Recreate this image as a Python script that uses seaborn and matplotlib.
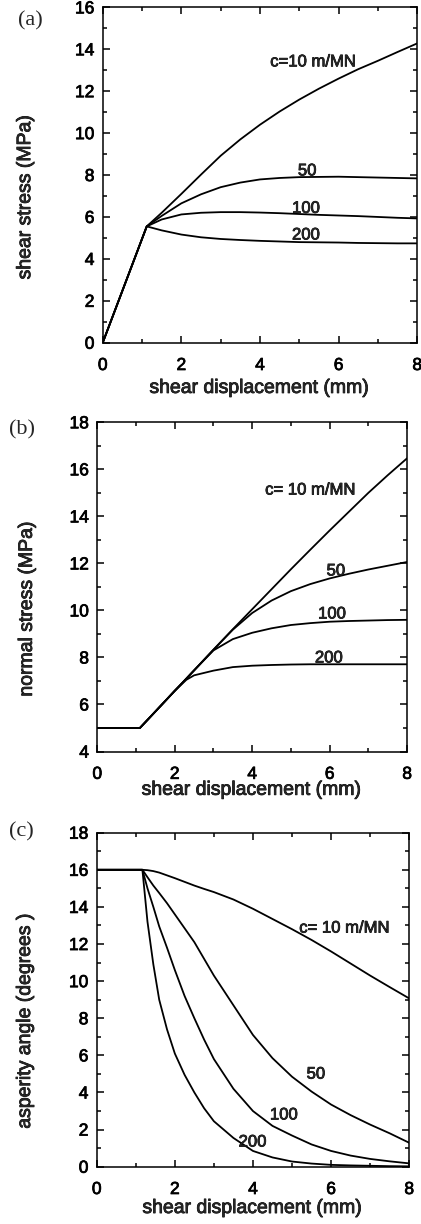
import pandas as pd
import seaborn as sns
import matplotlib.pyplot as plt
import matplotlib.patheffects as pe
from matplotlib.ticker import MultipleLocator

# (a) shear stress vs shear displacement
x_a = [0, 1.12, 1.5, 2, 2.5, 3, 3.5, 4, 4.5, 5, 5.5, 6, 6.5, 7, 7.5, 8]
tau_c10 = [0, 5.55, 6.2, 7.1, 8.02, 8.92, 9.7, 10.4, 11.03, 11.6, 12.12, 12.6, 13.05, 13.45, 13.87, 14.28]
tau_c50 = [0, 5.55, 6.05, 6.65, 7.08, 7.42, 7.64, 7.79, 7.86, 7.9, 7.91, 7.92, 7.9, 7.88, 7.86, 7.84]
tau_c100 = [0, 5.55, 5.88, 6.12, 6.2, 6.23, 6.23, 6.21, 6.18, 6.14, 6.1, 6.07, 6.04, 6.0, 5.96, 5.93]
tau_c200 = [0, 5.55, 5.36, 5.16, 5.03, 4.95, 4.9, 4.86, 4.83, 4.8, 4.79, 4.78, 4.76, 4.75, 4.74, 4.74]

# (b) normal stress vs shear displacement
x_b = [0, 1.1, 1.5, 2, 2.3, 2.5, 3, 3.5, 4, 4.5, 5, 5.5, 6, 6.5, 7, 7.5, 8]
sig_c10 = [5, 5, 5.7, 6.58, 7.1, 7.45, 8.33, 9.2, 10.05, 10.9, 11.75, 12.58, 13.4, 14.2, 15.0, 15.75, 16.47]
sig_c50 = [5, 5, 5.7, 6.58, 7.1, 7.45, 8.33, 9.18, 9.89, 10.42, 10.82, 11.12, 11.36, 11.56, 11.74, 11.9, 12.06]
sig_c100 = [5, 5, 5.7, 6.58, 7.1, 7.45, 8.3, 8.78, 9.05, 9.24, 9.38, 9.46, 9.52, 9.55, 9.57, 9.59, 9.6]
sig_c200 = [5, 5, 5.7, 6.58, 7.05, 7.24, 7.44, 7.59, 7.65, 7.68, 7.7, 7.71, 7.71, 7.71, 7.71, 7.71, 7.71]

# (c) asperity angle vs shear displacement
x_c = [0, 1.17, 1.3, 1.45, 1.6, 1.8, 2.0, 2.25, 2.5, 2.75, 3.0, 3.5, 4.0, 4.5, 5.0, 5.5, 6.0, 6.5, 7.0, 7.5, 8.0]
ang_c10 = [16, 16, 15.98, 15.93, 15.85, 15.7, 15.55, 15.35, 15.15, 14.97, 14.8, 14.4, 13.9, 13.35, 12.8,
           12.22, 11.6, 10.95, 10.3, 9.68, 9.07]
ang_c50 = [16, 16, 15.6, 15.15, 14.75, 14.2, 13.6, 12.85, 12.1, 11.2, 10.3, 8.7, 7.1, 5.85, 4.85,
           4.05, 3.35, 2.78, 2.27, 1.8, 1.29]
ang_c100 = [16, 16, 15.0, 14.0, 12.95, 11.8, 10.6, 9.2, 8.0, 6.85, 5.8, 4.2, 3.0, 2.2, 1.68,
            1.2, 0.85, 0.6, 0.42, 0.29, 0.18]
ang_c200 = [16, 16, 13.2, 10.9, 9.0, 7.4, 6.1, 4.95, 4.0, 3.15, 2.45, 1.55, 0.85, 0.5, 0.28,
            0.17, 0.1, 0.07, 0.05, 0.03, 0.02]

curve_labels_a = ["c=10 m/MN", "50", "100", "200"]
curve_labels_bc = ["c= 10 m/MN", "50", "100", "200"]

sns.set_style("ticks")
plt.rcParams['font.family'] = ['Liberation Sans', 'DejaVu Sans']
plt.rcParams['xtick.direction'] = 'in'
plt.rcParams['ytick.direction'] = 'in'

# scanned print looks heavier than a plain regular face
heavy = [pe.withStroke(linewidth=0.55, foreground='black')]

fig = plt.figure(figsize=(4.21, 12.24), dpi=100)

panels = [
    dict(rect=[0.244, 0.720, 0.747, 0.274], ylim=(0, 16), ylabel='shear stress (MPa)',
         series=[(x_a, tau_c10), (x_a, tau_c50), (x_a, tau_c100), (x_a, tau_c200)],
         labels=curve_labels_a, pos=[(5.35, 13.4), (5.2, 8.2), (5.17, 6.41), (5.17, 5.14)],
         ylab=(-0.218, 0.436), xlab=-0.111, tag='(a)', tagpos=(0.071, 0.983)),
    dict(rect=[0.231, 0.386, 0.736, 0.269], ylim=(4, 18), ylabel='normal stress (MPa)',
         series=[(x_b, sig_c10), (x_b, sig_c50), (x_b, sig_c100), (x_b, sig_c200)],
         labels=curve_labels_bc, pos=[(5.5, 15.12), (6.16, 11.68), (6.06, 9.85), (5.98, 7.98)],
         ylab=(-0.198, 0.435), xlab=-0.092, tag='(b)', tagpos=(0.053, 0.649)),
    dict(rect=[0.2297, 0.0468, 0.7423, 0.2729], ylim=(0, 18), ylabel='asperity angle (degrees )',
         series=[(x_c, ang_c10), (x_c, ang_c50), (x_c, ang_c100), (x_c, ang_c200)],
         labels=curve_labels_bc, pos=[(6.34, 12.86), (5.61, 4.99), (4.79, 2.79), (3.99, 1.33)],
         ylab=(-0.2006, 0.439), xlab=-0.0997, tag='(c)', tagpos=(0.051, 0.320)),
]

for p in panels:
    ax = fig.add_axes(p['rect'])
    for xs, ys in p['series']:
        df = pd.DataFrame({'x': xs, 'y': ys})
        sns.lineplot(data=df, x='x', y='y', ax=ax, color='black', linewidth=1.3,
                     estimator=None, sort=False)
    ax.set_xlim(0, 8)
    ax.set_ylim(*p['ylim'])
    ax.xaxis.set_major_locator(MultipleLocator(2))
    ax.xaxis.set_minor_locator(MultipleLocator(1))
    ax.yaxis.set_major_locator(MultipleLocator(2))
    ax.yaxis.set_minor_locator(MultipleLocator(1))
    ax.tick_params(which='both', top=True, right=True, width=1.1, colors='black')
    ax.tick_params(which='major', length=5, labelsize=12.5)
    ax.tick_params(which='minor', length=3)
    ax.tick_params(axis='x', which='major', pad=11)
    ax.tick_params(axis='y', which='major', pad=6)
    for s in ax.spines.values():
        s.set_linewidth(1.1)
        s.set_color('black')
    ax.set_xlabel('shear displacement (mm)', fontsize=14, path_effects=heavy)
    ax.set_ylabel(p['ylabel'], fontsize=14, path_effects=heavy)
    ax.xaxis.set_label_coords(0.5, p['xlab'])
    ax.yaxis.set_label_coords(*p['ylab'])
    for lab in ax.get_xticklabels() + ax.get_yticklabels():
        lab.set_path_effects(heavy)
    for txt, (tx, ty) in zip(p['labels'], p['pos']):
        ax.text(tx, ty, txt, fontsize=12, ha='center', va='center', path_effects=heavy)
    fig.text(p['tagpos'][0], p['tagpos'][1], p['tag'], fontsize=16,
             family='Liberation Serif', ha='center', va='center')

fig.savefig('out.png', dpi=100)
